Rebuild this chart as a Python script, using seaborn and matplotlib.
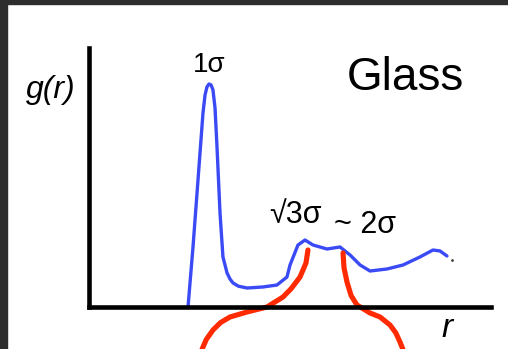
import matplotlib
matplotlib.use("Agg")
import matplotlib.pyplot as plt
import seaborn as sns
import pandas as pd
from matplotlib.patches import Rectangle

# ---- data (r in units of sigma, g(r) dimensionless) ----
r_blue = [0.836, 0.875, 0.914, 0.953, 0.969, 0.984, 1.0, 1.016, 1.031, 1.047,
          1.0625, 1.086, 1.109, 1.141, 1.164, 1.1875, 1.23, 1.297, 1.422, 1.531,
          1.609, 1.633, 1.695, 1.75, 1.8125, 1.922, 2.023, 2.102, 2.18, 2.258,
          2.391, 2.516, 2.648, 2.75, 2.805, 2.859]
g_blue = [0.0, 1.154, 2.442, 3.731, 4.077, 4.231, 4.288, 4.269, 4.173, 3.827,
          3.077, 1.808, 0.962, 0.654, 0.538, 0.462, 0.40, 0.365, 0.385, 0.423,
          0.577, 0.808, 1.192, 1.288, 1.192, 1.115, 1.154, 1.0, 0.808, 0.692,
          0.731, 0.808, 0.962, 1.096, 1.077, 0.981]
dot_r = [2.898]
dot_g = [0.904]

r_red_left = [1.773, 1.758, 1.711, 1.641, 1.578, 1.453, 1.297, 1.164, 1.09, 1.031, 0.98, 0.953, 0.9375]
g_red_left = [1.096, 0.85, 0.577, 0.35, 0.192, 0.0, -0.096, -0.192, -0.30, -0.442, -0.62, -0.769, -0.865]
r_red_right = [2.047, 2.055, 2.078, 2.11, 2.156, 2.258, 2.336, 2.414, 2.46, 2.492, 2.523]
g_red_right = [1.038, 0.75, 0.481, 0.22, 0.038, -0.115, -0.192, -0.346, -0.50, -0.673, -0.865]

peak_labels = ["1σ", "√3σ", "~ 2σ"]
title_text = "Glass"
ylabel_text = "g(r)"
xlabel_text = "r"

W, H = 508, 349
sns.set_style("white")
plt.rcParams['font.family'] = ['Liberation Sans', 'DejaVu Sans']

fig = plt.figure(figsize=(W / 100, H / 100), dpi=100)
fig.patch.set_facecolor("white")
ax = fig.add_axes([89 / W, (H - 307) / H, (491 - 89) / W, (307 - 48) / H])
ax.set_facecolor("white")

df_blue = pd.DataFrame({"r": r_blue, "g": g_blue})
sns.lineplot(data=df_blue, x="r", y="g", sort=False, ax=ax, color="#3a4af5",
             linewidth=2.4, clip_on=False, solid_joinstyle="round", solid_capstyle="round")
df_l = pd.DataFrame({"r": r_red_left, "g": g_red_left})
df_r = pd.DataFrame({"r": r_red_right, "g": g_red_right})
for d in (df_l, df_r):
    sns.lineplot(data=d, x="r", y="g", sort=False, ax=ax, color="#ff2a00",
                 linewidth=3.7, clip_on=False, solid_joinstyle="round")
sns.scatterplot(x=dot_r, y=dot_g, ax=ax, color="#444444", s=4, linewidth=0, clip_on=False)

ax.set_xlim(0.0625, 3.203)
ax.set_ylim(0, 4.98)
ax.set_xticks([])
ax.set_yticks([])
ax.set_xlabel("")
ax.set_ylabel("")
for s in ("top", "right"):
    ax.spines[s].set_visible(False)
for s in ("left", "bottom"):
    ax.spines[s].set_linewidth(3.3)
    ax.spines[s].set_color("black")
    ax.spines[s].set_capstyle("projecting")


def ftext(x, y, s, **kw):
    fig.text(x / W, 1 - y / H, s, ha="center", va="baseline", color="black", **kw)


ftext(51, 98, ylabel_text, fontsize=23, style="italic")
ftext(209, 72, peak_labels[0], fontsize=20)
ftext(405, 90, title_text, fontsize=33)
ftext(295, 223, peak_labels[1], fontsize=22)
ftext(365, 233, peak_labels[2], fontsize=22)
ftext(447, 337, xlabel_text, fontsize=24, style="italic")

# dark slide frame
fig.patches.append(Rectangle((0, 0), 7 / W, 1, transform=fig.transFigure,
                             color="#2d2d2d", zorder=10))
fig.patches.append(Rectangle((0, 1 - 4 / H), 1, 4 / H, transform=fig.transFigure,
                             color="#2d2d2d", zorder=10))

fig.savefig("out.png", dpi=100, facecolor="white")
